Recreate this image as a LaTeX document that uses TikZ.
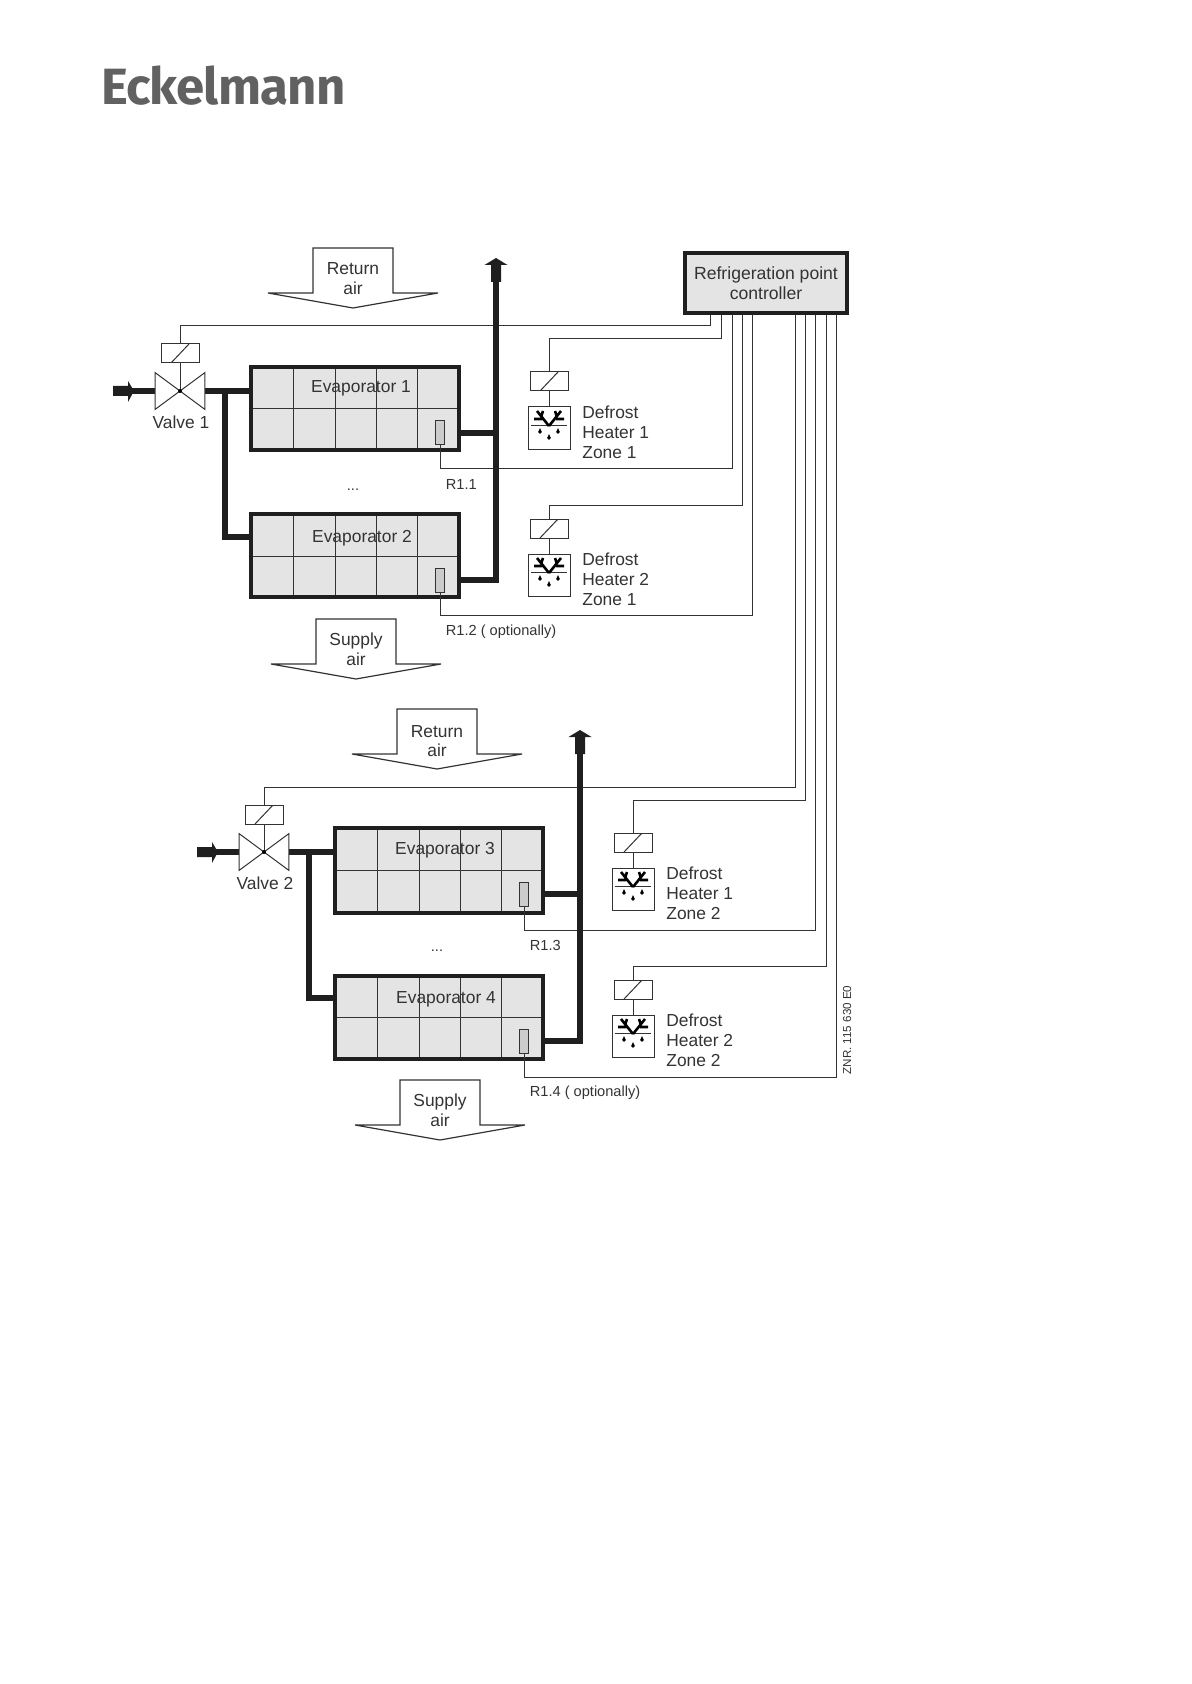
\documentclass[tikz,border=0pt]{standalone}
\usepackage{fontspec}
\setmainfont{Liberation Sans}
\newfontfamily\logofont[LetterSpace=-1.7]{Fira Sans}
\usetikzlibrary{positioning}
\definecolor{inkgray}{HTML}{333333}
\definecolor{panelgray}{HTML}{E4E4E4}
\tikzset{
  txt/.style={text=inkgray,inner sep=0pt,align=center,font=\fontsize{8.7}{9.9}\selectfont},
  smalltxt/.style={text=inkgray,inner sep=0pt,font=\fontsize{7.3}{8}\selectfont},
  wire/.style={draw=inkgray,line width=0.5pt},
  pipe/.style={draw=black!88,line width=2.6pt},
  evap/.style={draw=black!88,fill=panelgray,line width=2pt,inner sep=0pt,minimum width=104pt,minimum height=41.5pt,
    path picture={\draw[wire,shift={(path picture bounding box.center)}]
      (-62,-44)--(-62,44) (-20,-44)--(-20,44) (21,-44)--(21,44) (62,-44)--(62,44) (-104,0.5)--(104,0.5);}},
  ctrlbox/.style={draw=black!88,fill=panelgray,line width=2pt,inner sep=0pt,minimum width=81pt,minimum height=30pt},
  sensor/.style={draw=inkgray,fill=black!20,line width=0.5pt,inner sep=0pt,minimum width=4.5pt,minimum height=12pt},
  relay/.style={draw=inkgray,fill=white,line width=0.5pt,inner sep=0pt,minimum width=19pt,minimum height=9.5pt,
    path picture={\draw[wire,shift={(path picture bounding box.center)}] (-9,9.5)--(9,-9.5);}},
  valve/.style={inner sep=0pt,minimum width=24.5pt,minimum height=18pt},
  heater/.style={draw=inkgray,fill=white,line width=0.5pt,inner sep=0pt,minimum size=21pt,
    path picture={\begin{scope}[shift={(path picture bounding box.center)}]
      \draw[line width=0.3pt] (-18,-3)--(18,-3);
      \draw[black,line width=1.3pt] (0,-2)--(-12,-17) (0,-2)--(12,-17) (-7,-9)--(-15,-9) (7,-9)--(15,-9)
        (-8,-11)--(-6,-17) (8,-11)--(6,-17);
      \fill[black] (-9,4) circle (1.8);
      \fill[black] (9,4) circle (1.8);
      \fill[black] (0,10) circle (1.8);
      \fill[black] (-9,0)--(-10.7,4)--(-7.3,4)--cycle;
      \fill[black] (9,0)--(7.3,4)--(10.7,4)--cycle;
      \fill[black] (0,6)--(-1.7,10)--(1.7,10)--cycle;
    \end{scope}}},
  airdown/.pic={\draw[wire,line width=0.6pt,fill=white] (-40,-45)--(-40,0)--(-85,0)--(0,15)--(85,0)--(40,0)--(40,-45)--cycle;},
  ventup/.pic={\fill[black!88] (0,0)--(11.5,7)--(5,7)--(5,24)--(-5,24)--(-5,7)--(-11.5,7)--cycle;},
  feedin/.pic={\fill[black!88] (0,-5)--(15,-5)--(15,-10)--(21,0)--(15,11)--(15,5)--(0,5)--cycle;}
}

\begin{document}
\begin{tikzpicture}[x=0.5pt,y=-0.5pt]
  \useasboundingbox (0,0) rectangle (1191,1684);
  \node[anchor=base west,inner sep=0pt,text=black!62,font=\logofont\bfseries\fontsize{25.5}{26}\selectfont] (logo) at (101,105) {Eckelmann};

  % zone 1
  \pic at (353,293) {airdown};
  \node[txt] (RA1) at (353,279) {Return\\air};
  \pic at (356,664) {airdown};
  \node[txt] (SA1) at (356,649) {Supply\\air};
  \node[ctrlbox] (C) at (766,283) {};
  \node[txt,font=\fontsize{8.8}{9.9}\selectfont] (Ctext) at (C) {Refrigeration point\\controller};
  \node[evap] (E1) at (355,408.5) {};
  \node[txt] (L1) at (361,388.5) {Evaporator 1};
  \node[sensor] (S1) at (440,433) {};
  \node[evap] (E2) at (355,555.5) {};
  \node[txt] (L2) at (362,538) {Evaporator 2};
  \node[sensor] (S2) at (440,580) {};
  \node[smalltxt,anchor=west] (T1) at (445.5,484) {R1.1};
  \node[smalltxt,anchor=west] (T2) at (445.5,632) {R1.2 ( optionally)};
  \node[smalltxt] (D1) at (353,490) {...};
  \node[valve] (V1) at (180,391) {};
  \node[relay] (VR1) at (180,353.5) {};
  \node[txt] (VT1) at (181,422) {Valve 1};
  \node[relay] (HR1) at (549,381.5) {};
  \node[heater] (H1) at (549,428) {};
  \node[txt,anchor=west,align=left] (HT1) at (582,432) {Defrost\\Heater 1\\Zone 1};
  \node[relay] (HR2) at (549,528.5) {};
  \node[heater] (H2) at (549,575) {};
  \node[txt,anchor=west,align=left] (HT2) at (582,579) {Defrost\\Heater 2\\Zone 1};

  % zone 2
  \pic at (437,754) {airdown};
  \node[txt] (RA2) at (437,741) {Return\\air};
  \pic at (440,1125) {airdown};
  \node[txt] (SA2) at (440,1110) {Supply\\air};
  \node[evap,minimum height=42.5pt] (E3) at (439,870) {};
  \node[txt] (L3) at (445,850) {Evaporator 3};
  \node[sensor] (S3) at (524,894) {};
  \node[evap] (E4) at (439,1017) {};
  \node[txt] (L4) at (446,999.5) {Evaporator 4};
  \node[sensor] (S4) at (524,1041) {};
  \node[smalltxt,anchor=west] (T3) at (529.5,945) {R1.3};
  \node[smalltxt,anchor=west] (T4) at (529.5,1093) {R1.4 ( optionally)};
  \node[smalltxt] (D2) at (437,951) {...};
  \node[valve] (V2) at (264,852) {};
  \node[relay] (VR2) at (264,814.5) {};
  \node[txt] (VT2) at (265,883) {Valve 2};
  \node[relay] (HR3) at (633,842.5) {};
  \node[heater] (H3) at (633,889) {};
  \node[txt,anchor=west,align=left] (HT3) at (666,893) {Defrost\\Heater 1\\Zone 2};
  \node[relay] (HR4) at (633,989.5) {};
  \node[heater] (H4) at (633,1036) {};
  \node[txt,anchor=west,align=left] (HT4) at (666,1040) {Defrost\\Heater 2\\Zone 2};
  \node[smalltxt,font=\fontsize{5.8}{6}\selectfont,rotate=90] (ZNR) at (847,1030) {ZNR. 115 630 E0};

  % wires from the controller
  \coordinate (K1) at (710,326);
  \coordinate (K2) at (721,339);
  \coordinate (K3) at (732,468);
  \coordinate (K4) at (742,505);
  \coordinate (K5) at (752,615);
  \coordinate (K6) at (795,787);
  \coordinate (K7) at (805,800);
  \coordinate (K8) at (815,930);
  \coordinate (K9) at (826,966);
  \coordinate (K10) at (836,1077);
  \draw[wire] (K1 |- C.south) -- (K1) -| (VR1.north);
  \draw[wire] (K2 |- C.south) -- (K2) -| (HR1.north);
  \draw[wire] (K3 |- C.south) -- (K3) -| (S1.south);
  \draw[wire] (K4 |- C.south) -- (K4) -| (HR2.north);
  \draw[wire] (K5 |- C.south) -- (K5) -| (S2.south);
  \draw[wire] (K6 |- C.south) -- (K6) -| (VR2.north);
  \draw[wire] (K7 |- C.south) -- (K7) -| (HR3.north);
  \draw[wire] (K8 |- C.south) -- (K8) -| (S3.south);
  \draw[wire] (K9 |- C.south) -- (K9) -| (HR4.north);
  \draw[wire] (K10 |- C.south) -- (K10) -| (S4.south);
  \draw[wire] (HR1.south) -- (H1.north) (HR2.south) -- (H2.north) (HR3.south) -- (H3.north) (HR4.south) -- (H4.north);
  \draw[wire] (VR1.south) -- (V1.center) (VR2.south) -- (V2.center);

  % pipes
  \coordinate (B1) at (225,391);
  \coordinate (B2) at (225,537);
  \coordinate (B3) at (309,852);
  \coordinate (B4) at (309,998);
  \coordinate (O1) at (496,282);
  \coordinate (O2) at (580,754);
  \pic at (113,391) {feedin};
  \pic at (197,852) {feedin};
  \pic at (496,258) {ventup};
  \pic at (580,730) {ventup};
  \coordinate (F1) at (128,391);
  \coordinate (F2) at (212,852);
  \draw[pipe] (F1) -- (V1.west) (V1.east) -- (E1.west |- V1);
  \draw[pipe] (F2) -- (V2.west) (V2.east) -- (E3.west |- V2);
  \draw[pipe] (B1) -- (B2) -- (B2 -| E2.west);
  \draw[pipe] (B3) -- (B4) -- (B4 -| E4.west);
  \draw[pipe] (O1) -- (O1 |- S2) -- (S2 -| E2.east);
  \draw[pipe] (O2) -- (O2 |- S4) -- (S4 -| E4.east);
  \draw[pipe] (S1 -| E1.east) -- (S1 -| O1);
  \draw[pipe] (S3 -| E3.east) -- (S3 -| O2);

  % valves
  \draw[wire,fill=white] (V1.north west) -- (V1.south east) -- (V1.north east) -- (V1.south west) -- cycle;
  \draw[wire,fill=white] (V2.north west) -- (V2.south east) -- (V2.north east) -- (V2.south west) -- cycle;
  \fill[black] (V1.center) circle (2) (V2.center) circle (2);
\end{tikzpicture}
\end{document}
